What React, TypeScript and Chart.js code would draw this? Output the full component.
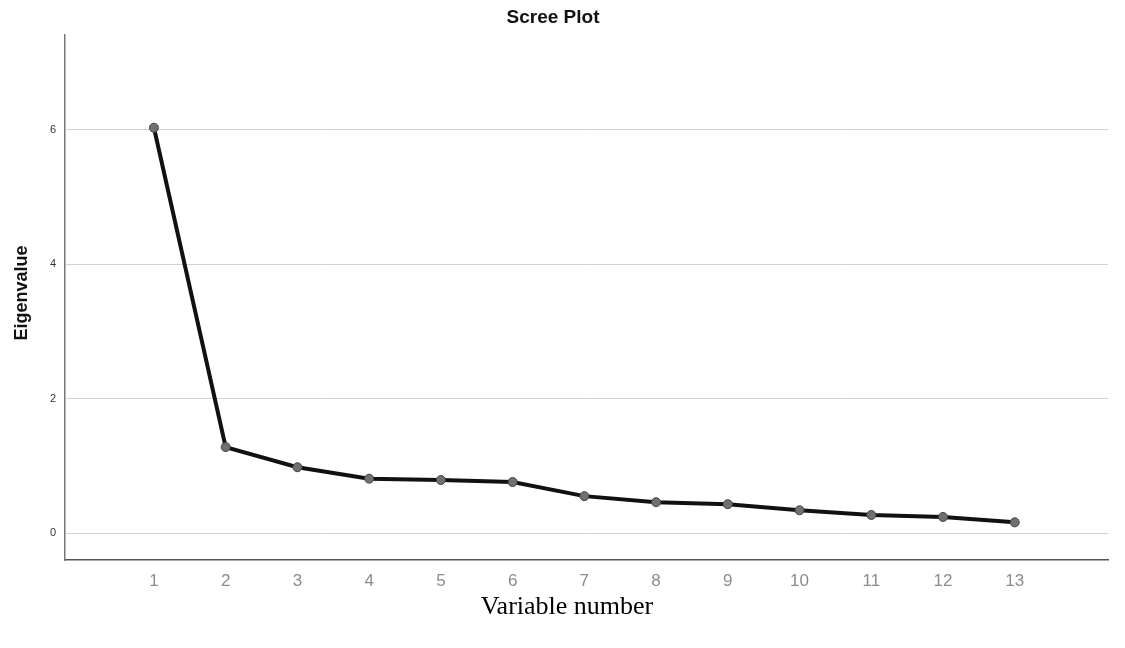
import React, { useEffect, useRef } from "react";
import { Chart, registerables } from "chart.js";

Chart.register(...registerables);

// Component index and its eigenvalue
const components = [1, 2, 3, 4, 5, 6, 7, 8, 9, 10, 11, 12, 13];
const eigenvalues = [6.03, 1.28, 0.98, 0.81, 0.79, 0.76, 0.55, 0.46, 0.43, 0.34, 0.27, 0.24, 0.16];
const yTickValues = [0, 2, 4, 6];

const chartTitle = "Scree Plot";
const xTitle = "Variable number";
const yTitle = "Eigenvalue";

// Draws the title and both axis captions at fixed spots on the canvas
const captionsPlugin = {
  id: "captions",
  afterDraw(chart: any) {
    const ctx = chart.ctx;
    ctx.save();
    ctx.fillStyle = "#111";
    ctx.textAlign = "center";
    ctx.textBaseline = "middle";

    ctx.font = "bold 19px Arial, 'Liberation Sans', sans-serif";
    ctx.fillText(chartTitle, 553, 18);

    ctx.font = "26px 'Liberation Serif', 'Times New Roman', serif";
    ctx.fillStyle = "#000";
    ctx.fillText(xTitle, 567, 607);

    ctx.translate(22, 293);
    ctx.rotate(-Math.PI / 2);
    ctx.font = "bold 18px Arial, 'Liberation Sans', sans-serif";
    ctx.fillStyle = "#111";
    ctx.fillText(yTitle, 0, 0);
    ctx.restore();
  },
};

export default function App() {
  const canvasRef = useRef<HTMLCanvasElement | null>(null);

  useEffect(() => {
    if (!canvasRef.current) return;
    const points = components.map((c, i) => ({ x: c, y: eigenvalues[i] }));

    const chart = new Chart(canvasRef.current, {
      type: "scatter",
      data: {
        datasets: [
          {
            data: points,
            showLine: true,
            borderColor: "#111",
            borderWidth: 4,
            pointRadius: 4.5,
            pointBackgroundColor: "#707070",
            pointBorderColor: "#444",
            pointBorderWidth: 1,
            clip: false,
          } as any,
        ],
      },
      options: {
        responsive: false,
        animation: false,
        layout: { padding: { top: 35, right: 17, left: 0, bottom: 0 } },
        plugins: {
          legend: { display: false },
          tooltip: { enabled: false },
          title: { display: false },
        },
        scales: {
          x: {
            type: "linear",
            min: -0.24,
            max: 14.3,
            afterBuildTicks(scale: any) {
              scale.ticks = components.map((v) => ({ value: v }));
            },
            afterFit(scale: any) {
              scale.height = 88;
            },
            grid: { display: false, drawTicks: false },
            border: { display: true, color: "#555", width: 1.5 },
            ticks: {
              padding: 11,
              color: "#8c8c8c",
              font: { family: "Arial, 'Liberation Sans', sans-serif", size: 17 },
              callback: (v: any) => String(v),
            },
          },
          y: {
            type: "linear",
            min: -0.4,
            max: 7.41,
            afterBuildTicks(scale: any) {
              scale.ticks = yTickValues.map((v) => ({ value: v }));
            },
            afterFit(scale: any) {
              scale.width = 65;
            },
            grid: { color: "#d2d2d2", lineWidth: 1, drawTicks: false },
            border: { display: true, color: "#777", width: 1.5 },
            ticks: {
              padding: 9,
              color: "#333",
              font: { family: "Arial, 'Liberation Sans', sans-serif", size: 11 },
              callback: (v: any) => String(v),
            },
          },
        },
      },
      plugins: [captionsPlugin],
    });

    return () => chart.destroy();
  }, []);

  return (
    <div style={{ position: "fixed", left: 0, top: 0, width: 1125, height: 648, background: "#fff" }}>
      <canvas ref={canvasRef} width={1125} height={648} style={{ display: "block" }} />
    </div>
  );
}
